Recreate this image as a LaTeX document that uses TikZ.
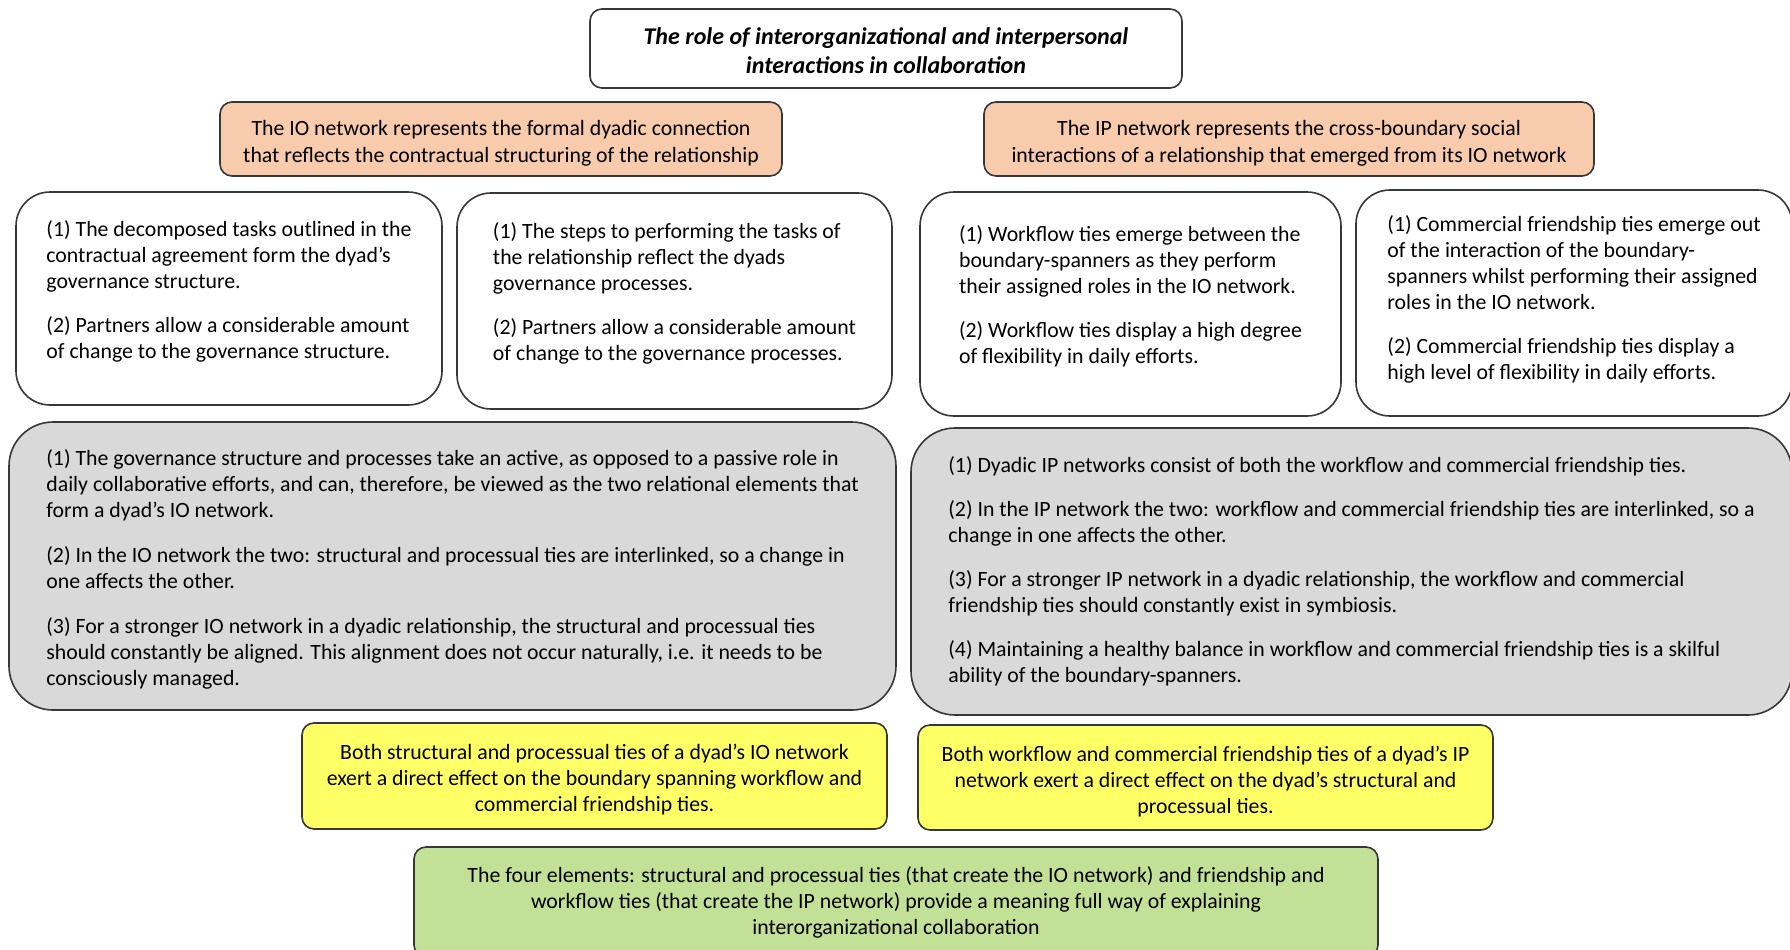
\documentclass[tikz,border=0pt]{standalone}
\usepackage{fontspec}
\setmainfont{Carlito}
\usetikzlibrary{positioning}

\definecolor{peach}{RGB}{248,203,173}
\definecolor{lightgrey}{RGB}{217,217,217}
\definecolor{paleyellow}{RGB}{255,255,102}
\definecolor{palegreen}{RGB}{194,225,150}
\definecolor{edge}{RGB}{55,55,55}

% struts to nudge text inside a box
\newcommand{\uppush}[1]{\rule[-#1]{0pt}{0pt}}
\newcommand{\downpush}[1]{\rule{0pt}{#1}}

\begin{document}
\begin{tikzpicture}[x=0.5pt, y=-0.5pt, line width=0.8pt, font=\fontsize{10.9}{13}\selectfont]

        \tikzstyle{box} = [draw=edge, rectangle, inner sep=0pt, align=center]
        \tikzstyle{headbox} = [box, rounded corners=6pt, fill=white, font=\fontsize{12}{14.5}\selectfont\bfseries\itshape]
        \tikzstyle{netbox} = [box, rounded corners=6pt, fill=peach, font=\fontsize{10.9}{13.6}\selectfont]
        \tikzstyle{tiebox} = [box, rounded corners=17pt, fill=white, align=left]
        \tikzstyle{sumbox} = [box, rounded corners=22pt, fill=lightgrey, align=left]
        \tikzstyle{effectbox} = [box, rounded corners=6pt, fill=paleyellow]
        \tikzstyle{endbox} = [box, rounded corners=6pt, fill=palegreen]

        \useasboundingbox (0,0) rectangle (1790,949);
        \clip (0,0) rectangle (1790,949);

        % title
        \node [headbox, minimum width=296pt, minimum height=39.5pt] (title) at (886,48.5)
            {\downpush{11pt}The role of interorganizational and interpersonal\\ interactions in collaboration};

        % the two networks
        \node [netbox, minimum width=281pt, minimum height=37pt] (IO) at (501,139)
            {\downpush{12pt}The IO network represents the formal dyadic connection\\
             that reflects the contractual structuring of the relationship};
        \node [netbox, minimum width=305pt, minimum height=37pt] (IP) at (1289,139)
            {\downpush{12pt}The IP network represents the cross-boundary social\\
             interactions of a relationship that emerged from its IO network};

        % ties of each network
        \node [tiebox, minimum width=213pt, minimum height=106.5pt] (structure) at (229,298.5)
            {(1) The decomposed tasks outlined in the\\
             contractual agreement form the dyad’s\\
             governance structure.\\[9pt]
             (2) Partners allow a considerable amount\\
             of change to the governance structure.\uppush{9pt}};
        \node [tiebox, minimum width=217.5pt, minimum height=108pt] (process) at (674.5,301)
            {(1) The steps to performing the tasks of\\
             the relationship reflect the dyads\\
             governance processes.\\[9pt]
             (2) Partners allow a considerable amount\\
             of change to the governance processes.\uppush{9pt}};
        \node [tiebox, minimum width=210.5pt, minimum height=112pt] (workflow) at (1130.5,304)
            {(1) Workflow ties emerge between the\\
             boundary-spanners as they perform\\
             their assigned roles in the IO network.\\[9pt]
             (2) Workflow ties display a high degree\\
             of flexibility in daily efforts.\uppush{9pt}};
        \node [tiebox, minimum width=218pt, minimum height=113pt] (friendship) at (1574,303)
            {(1) Commercial friendship ties emerge out\\
             of the interaction of the boundary-\\
             spanners whilst performing their assigned\\
             roles in the IO network.\\[9pt]
             (2) Commercial friendship ties display a\\
             high level of flexibility in daily efforts.\uppush{5pt}};

        % summaries
        \node [sumbox, minimum width=443.5pt, minimum height=144pt] (IOsum) at (452.5,566)
            {\downpush{11.5pt}(1) The governance structure and processes take an active, as opposed to a passive role in\\
             daily collaborative efforts, and can, therefore, be viewed as the two relational elements that\\
             form a dyad’s IO network.\\[9.5pt]
             (2) In the IO network the two: structural and processual ties are interlinked, so a change in\\
             one affects the other.\\[9.5pt]
             (3) For a stronger IO network in a dyadic relationship, the structural and processual ties\\
             should constantly be aligned. This alignment does not occur naturally, i.e. it needs to be\\
             consciously managed.};
        \node [sumbox, minimum width=440.5pt, minimum height=143.5pt] (IPsum) at (1351.5,571.5)
            {(1) Dyadic IP networks consist of both the workflow and commercial friendship ties.\\[9pt]
             (2) In the IP network the two: workflow and commercial friendship ties are interlinked, so a\\
             change in one affects the other.\\[9pt]
             (3) For a stronger IP network in a dyadic relationship, the workflow and commercial\\
             friendship ties should constantly exist in symbiosis.\\[9pt]
             (4) Maintaining a healthy balance in workflow and commercial friendship ties is a skilful\\
             ability of the boundary-spanners.};

        % effects
        \node [effectbox, minimum width=292.5pt, minimum height=53pt] (IOeffect) at (594.5,776)
            {\downpush{11.5pt}Both structural and processual ties of a dyad’s IO network\\
             exert a direct effect on the boundary spanning workflow and\\
             commercial friendship ties.};
        \node [effectbox, minimum width=287.5pt, minimum height=52.5pt] (IPeffect) at (1205.5,777.5)
            {\downpush{11.5pt}Both workflow and commercial friendship ties of a dyad’s IP\\
             network exert a direct effect on the dyad’s structural and\\
             processual ties.};

        % conclusion
        \node [endbox, minimum width=482pt, minimum height=55pt] (four) at (896,902)
            {The four elements: structural and processual ties (that create the IO network) and friendship and\\
             workflow ties (that create the IP network) provide a meaning full way of explaining\\
             interorganizational collaboration};

    \end{tikzpicture}
\end{document}
